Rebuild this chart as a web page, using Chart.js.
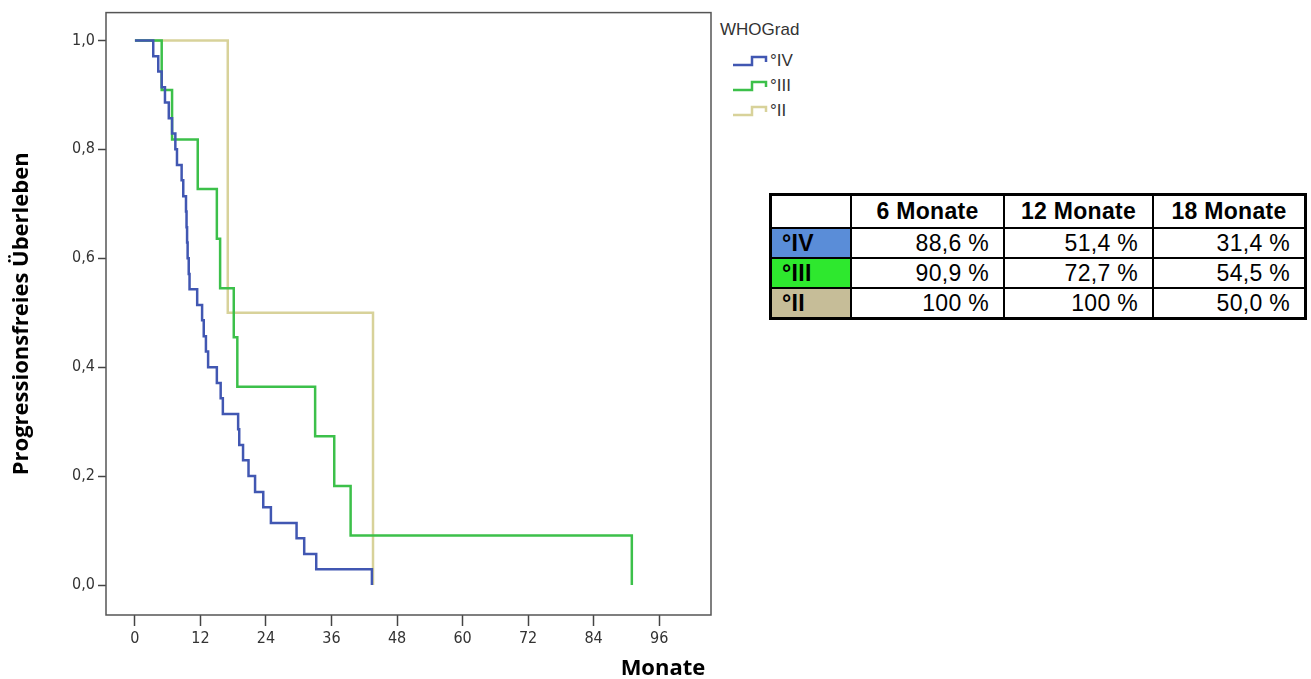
<!DOCTYPE html>
<html>
<head>
<meta charset="utf-8">
<script src="https://cdn.jsdelivr.net/npm/chart.js@4.4.1/dist/chart.umd.min.js"></script>
<style>
  html, body { margin: 0; padding: 0; background: #fff; }
  body { width: 1311px; height: 679px; position: relative; overflow: hidden; font-family: "Liberation Sans", Arial, sans-serif; }
  #chartBox { position: absolute; left: 0; top: 0; width: 720px; height: 679px; }
  #legende { position: absolute; left: 720px; top: 20px; color: #333; }
  #legende .titel { font-size: 17px; margin-bottom: 8px; }
  #legende .eintrag { height: 25px; display: flex; align-items: center; padding-left: 12px; font-size: 17px; }
  #legende svg { margin-right: 2px; }
  #tabelle { position: absolute; left: 769px; top: 193px; border-collapse: collapse; border: 3px solid #000; font-size: 23px; letter-spacing: 0.3px; }
  #tabelle td, #tabelle th { border: 2px solid #000; padding: 0; }
  #tabelle th { height: 31px; font-weight: bold; text-align: center; }
  #tabelle td { height: 28px; text-align: right; padding-right: 14px; }
  #tabelle td.grad { text-align: left; font-weight: bold; padding-left: 10px; padding-right: 0; }
</style>
</head>
<body>
<div id="chartBox"><canvas id="kmKurve"></canvas></div>
<div id="legende"></div>
<table id="tabelle"></table>
<script>
// Achsen
const xTicks = [0, 12, 24, 36, 48, 60, 72, 84, 96];
const yTicks = [0, 0.2, 0.4, 0.6, 0.8, 1.0];

// WHO Grad IV (Ereigniszeitpunkte in Monaten / Überleben)
const grad4Monate = [0, 3.35, 4.27, 4.9, 5.5, 6.2, 6.8, 7.4, 7.7, 8.55, 8.85, 9.35, 9.45, 9.55, 9.65, 9.85, 10.0,
  11.4, 12.3, 12.6, 13.0, 13.4, 15.0, 15.7, 16.1, 18.9, 19.1, 19.8, 20.8, 22.0, 23.5, 24.9, 29.6, 31.0, 33.2, 43.4];
const grad4Surv = [1.0, 0.971, 0.943, 0.914, 0.886, 0.857, 0.829, 0.800, 0.771, 0.743, 0.714, 0.686, 0.657, 0.629,
  0.600, 0.571, 0.543, 0.514, 0.486, 0.457, 0.429, 0.400, 0.371, 0.343, 0.314, 0.286, 0.257, 0.229, 0.200, 0.171,
  0.143, 0.114, 0.086, 0.057, 0.029, 0.0];

// WHO Grad III
const grad3Monate = [0, 4.9, 6.8, 11.5, 15.0, 15.6, 18.1, 18.75, 33.0, 36.5, 39.5, 91.0];
const grad3Surv = [1.0, 0.909, 0.818, 0.727, 0.636, 0.545, 0.455, 0.364, 0.273, 0.182, 0.091, 0.0];

// WHO Grad II
const grad2Monate = [0, 17.0, 43.6];
const grad2Surv = [1.0, 0.5, 0.0];

// Tabelle
const tabelleSpalten = ['6 Monate', '12 Monate', '18 Monate'];
const tabelleZeilen = ['°IV', '°III', '°II'];
const tabelleWerte = [
  ['88,6 %', '51,4 %', '31,4 %'],
  ['90,9 %', '72,7 %', '54,5 %'],
  ['100 %', '100 %', '50,0 %']
];

const farben = ['#4157b2', '#3cc04a', '#d8d29a'];
const zellFarben = ['#5a8dd8', '#2ee82e', '#c6bd98'];
const narrow = '"Liberation Sans Narrow", "DejaVu Sans Condensed", Arial, sans-serif';

function punkte(monate, surv) {
  return monate.map((m, i) => ({ x: m, y: surv[i] }));
}

// Rahmen um den Plotbereich
const rahmenPlugin = {
  id: 'rahmen',
  afterDraw(chart) {
    const a = chart.chartArea;
    const ctx = chart.ctx;
    ctx.save();
    ctx.strokeStyle = '#555';
    ctx.lineWidth = 1.5;
    ctx.strokeRect(a.left, a.top, a.right - a.left, a.bottom - a.top);
    ctx.restore();
  }
};

new Chart(document.getElementById('kmKurve'), {
  type: 'line',
  data: {
    datasets: [
      { label: '°IV', data: punkte(grad4Monate, grad4Surv), borderColor: farben[0] },
      { label: '°III', data: punkte(grad3Monate, grad3Surv), borderColor: farben[1] },
      { label: '°II', data: punkte(grad2Monate, grad2Surv), borderColor: farben[2] }
    ]
  },
  options: {
    responsive: true,
    maintainAspectRatio: false,
    animation: false,
    layout: { padding: { top: 12, right: 9, left: 0, bottom: 0 } },
    datasets: { line: { stepped: true, borderWidth: 2.5, pointRadius: 0, fill: false } },
    plugins: { legend: { display: false }, tooltip: { enabled: false } },
    scales: {
      x: {
        type: 'linear',
        min: -5.3,
        max: 105.5,
        afterBuildTicks: axis => { axis.ticks = xTicks.map(v => ({ value: v })); },
        afterFit: axis => { axis.height = 64; },
        grid: { drawOnChartArea: false, tickLength: 11, tickWidth: 1.5, tickColor: '#444' },
        border: { display: false },
        ticks: { color: '#333', padding: 3, maxRotation: 0, font: { family: narrow, size: 16 } },
        title: {
          display: true, text: 'Monate\u00a0', align: 'end', color: '#000',
          padding: { top: 0, bottom: -3 },
          font: { family: '"Open Sans", sans-serif', size: 22, weight: 'bold' }
        }
      },
      y: {
        min: -0.055,
        max: 1.051,
        afterBuildTicks: axis => { axis.ticks = yTicks.map(v => ({ value: v })); },
        afterFit: axis => { axis.width = 106; },
        grid: { drawOnChartArea: false, tickLength: 8, tickWidth: 1.5, tickColor: '#444' },
        border: { display: false },
        ticks: {
          color: '#333', padding: 3, font: { family: narrow, size: 16 },
          callback: v => v.toFixed(1).replace('.', ',')
        },
        title: {
          display: true, text: 'Progressionsfreies Überleben', color: '#000',
          padding: { top: 9, bottom: 0 },
          font: { family: '"Open Sans", sans-serif', size: 22, weight: 'bold' }
        }
      }
    }
  },
  plugins: [rahmenPlugin]
});

// Legende
const legende = document.getElementById('legende');
let html = '<div class="titel">WHOGrad</div>';
tabelleZeilen.forEach((name, i) => {
  html += '<div class="eintrag"><svg width="36" height="14"><polyline points="1,11 20,11 20,3 34,3 34,8" fill="none" stroke="' +
    farben[i] + '" stroke-width="2.5"/></svg>' + name + '</div>';
});
legende.innerHTML = html;

// Tabelle
const tabelle = document.getElementById('tabelle');
let zeilen = '<tr><th style="width:78px"></th>' +
  tabelleSpalten.map((s, i) => '<th style="width:' + [151, 147, 150][i] + 'px">' + s + '</th>').join('') + '</tr>';
tabelleZeilen.forEach((name, r) => {
  zeilen += '<tr><td class="grad" style="background:' + zellFarben[r] + '">' + name + '</td>' +
    tabelleWerte[r].map(w => '<td>' + w + '</td>').join('') + '</tr>';
});
tabelle.innerHTML = zeilen;
</script>
</body>
</html>
